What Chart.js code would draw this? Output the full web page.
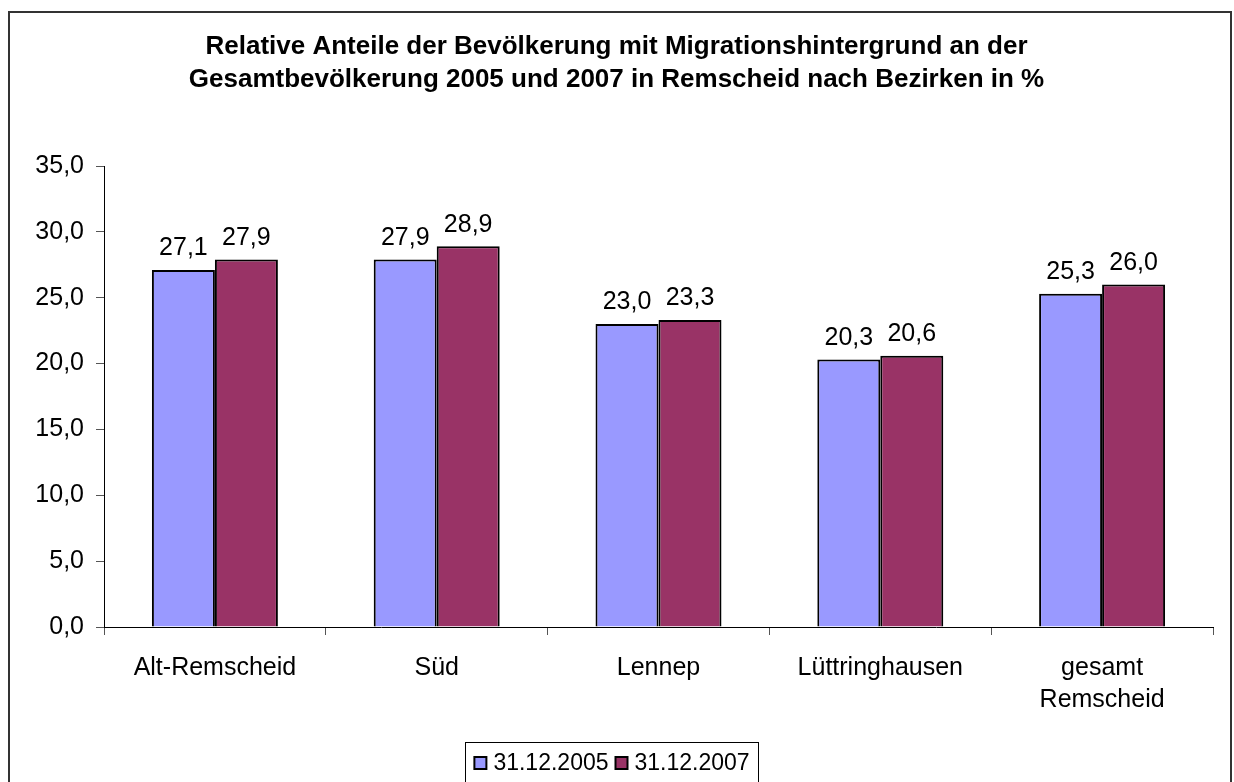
<!DOCTYPE html>
<html>
<head>
<meta charset="utf-8">
<script src="https://cdn.jsdelivr.net/npm/chart.js@4"></script>
<style>
html,body{margin:0;padding:0;background:#fff;}
#wrap{width:1234px;height:782px;position:relative;}
</style>
</head>
<body>
<div id="wrap"><canvas id="c"></canvas></div>
<script>
const categories = ['Alt-Remscheid', 'Süd', 'Lennep', 'Lüttringhausen', ['gesamt', 'Remscheid']];
const series2005 = [27.1, 27.9, 23.0, 20.3, 25.3];
const series2007 = [27.9, 28.9, 23.3, 20.6, 26.0];
const seriesNames = ['31.12.2005', '31.12.2007'];
const titleLines = ['Relative Anteile der Bevölkerung mit Migrationshintergrund an der', 'Gesamtbevölkerung 2005 und 2007 in Remscheid nach Bezirken in %'];

const FONT = '"Liberation Sans", Arial, sans-serif';
const fmt = v => Number(v).toFixed(1).replace('.', ',');

const framePlugin = {
  id: 'frame',
  beforeDraw(chart) {
    const ctx = chart.ctx;
    ctx.save();
    ctx.fillStyle = '#fff';
    ctx.fillRect(0, 0, chart.width, chart.height);
    ctx.strokeStyle = '#333';
    ctx.lineWidth = 2;
    ctx.strokeRect(9, 12, 1222, 900);
    ctx.restore();
  }
};

const valueLabels = {
  id: 'valueLabels',
  afterDatasetsDraw(chart) {
    const ctx = chart.ctx;
    ctx.save();
    ctx.font = '25px ' + FONT;
    ctx.fillStyle = '#000';
    ctx.textAlign = 'center';
    ctx.textBaseline = 'bottom';
    chart.data.datasets.forEach((ds, di) => {
      const meta = chart.getDatasetMeta(di);
      meta.data.forEach((el, i) => {
        ctx.fillText(fmt(ds.data[i]), el.x, el.y - 9);
      });
    });
    ctx.restore();
  }
};

const boxLegend = {
  id: 'boxLegend',
  afterDraw(chart) {
    const ctx = chart.ctx;
    ctx.save();
    ctx.font = '23px ' + FONT;
    const sw = 12, gapAfterSw = 7, gapItems = 7, padX = 9;
    const items = chart.data.datasets.map(ds => ({text: ds.label, fill: ds.backgroundColor}));
    let total = padX * 2;
    items.forEach((it, i) => {
      it.w = ctx.measureText(it.text).width;
      total += sw + gapAfterSw + it.w + (i < items.length - 1 ? gapItems : 0);
    });
    const cx = 612;
    const left = cx - total / 2;
    const top = chart.chartArea.bottom + 115;
    const cy = top + 21;
    ctx.strokeStyle = '#000';
    ctx.lineWidth = 1;
    ctx.strokeRect(Math.round(left) + 0.5, Math.round(top) + 0.5, Math.round(total), 100);
    let x = left + padX;
    ctx.textBaseline = 'middle';
    ctx.textAlign = 'left';
    items.forEach(it => {
      ctx.fillStyle = it.fill;
      ctx.fillRect(x, cy - sw / 2, sw, sw);
      ctx.strokeStyle = '#000';
      ctx.lineWidth = 2;
      ctx.strokeRect(x, cy - sw / 2, sw, sw);
      x += sw + gapAfterSw;
      ctx.fillStyle = '#000';
      ctx.fillText(it.text, x, cy + 1);
      x += it.w + gapItems;
    });
    ctx.restore();
  }
};

new Chart(document.getElementById('c'), {
  type: 'bar',
  data: {
    labels: categories,
    datasets: [
      {label: seriesNames[0], data: series2005, backgroundColor: '#9999FF', borderColor: '#000', borderWidth: 2, borderSkipped: 'bottom'},
      {label: seriesNames[1], data: series2007, backgroundColor: '#993366', borderColor: '#000', borderWidth: 2, borderSkipped: 'bottom'}
    ]
  },
  options: {
    responsive: true,
    maintainAspectRatio: false,
    animation: false,
    datasets: {bar: {categoryPercentage: 0.568, barPercentage: 1.0}},
    layout: {padding: {left: 20, right: 21, top: 0, bottom: 0}},
    plugins: {
      legend: {display: false},
      tooltip: {enabled: false},
      title: {
        display: true,
        text: titleLines,
        color: '#000',
        font: {family: FONT, size: 26, weight: 'bold', lineHeight: 33 / 26},
        padding: {top: 30.5, bottom: 69.5}
      }
    },
    scales: {
      x: {
        grid: {display: true, drawOnChartArea: false, drawTicks: true, tickLength: 8, color: '#555', offset: true},
        border: {display: true, color: '#000', width: 1},
        ticks: {color: '#000', font: {family: FONT, size: 25, lineHeight: 32 / 25}, padding: 17, maxRotation: 0, autoSkip: false},
        afterFit(scale) { scale.height = 155; }
      },
      y: {
        min: 0, max: 35,
        grid: {display: true, drawOnChartArea: false, drawTicks: true, tickLength: 8, color: '#555'},
        border: {display: true, color: '#000', width: 1},
        ticks: {stepSize: 5, color: '#000', font: {family: FONT, size: 25}, padding: 12, callback: v => fmt(v)},
        afterFit(scale) { scale.width = 84; }
      }
    }
  },
  plugins: [framePlugin, valueLabels, boxLegend]
});
</script>
</body>
</html>
